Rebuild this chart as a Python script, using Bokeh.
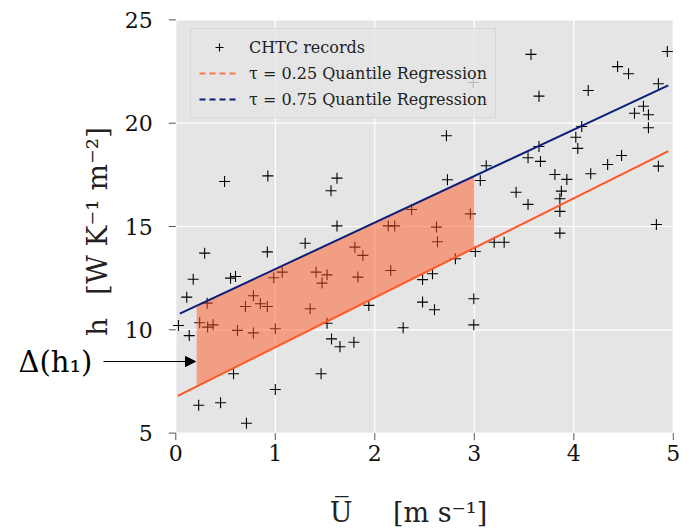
import numpy as np
from bokeh.plotting import figure
from bokeh.models import Label, Arrow, NormalHead, Legend, LegendItem, ColumnDataSource
from bokeh.embed import file_html
from bokeh.resources import INLINE
from bokeh.core.properties import value

# ---- data ----
wind_speed = [0.49, 0.925, 1.62, 1.56, 1.62, 1.30, 0.29, 0.92, 0.175, 0.55,
              0.60, 0.985, 1.07, 1.41, 1.52, 0.11, 0.315, 0.78, 0.70, 0.85,
              0.92, 1.35, 1.47, 0.027, 0.24, 0.32, 0.375, 0.135, 0.62, 0.78,
              1.00, 1.52, 1.565, 1.65, 0.58, 1.46, 1.00, 0.23, 0.45, 0.71,
              2.72, 3.12, 2.73, 3.06, 2.37, 2.96, 2.135, 2.20, 2.62, 2.63,
              1.80, 1.88, 2.16, 1.83, 2.81, 3.01, 3.20, 3.30, 2.58, 2.48,
              1.94, 2.48, 2.60, 2.285, 2.995, 2.995, 1.79,
              3.57, 4.94, 4.44, 4.55, 4.85, 4.145, 3.65, 4.70, 4.61, 4.75,
              4.75, 4.08, 4.02, 4.04, 3.65, 3.54, 3.665, 4.48, 4.34, 4.85,
              4.17, 3.81, 3.93, 3.42, 3.875, 3.86, 3.54, 3.86, 4.83, 3.86,
              2.99]
chtc = [17.18, 17.45, 17.34, 16.73, 15.03, 14.19, 13.71, 13.77, 12.45, 12.50,
        12.58, 12.52, 12.79, 12.79, 12.66, 11.58, 11.29, 11.65, 11.13, 11.26,
        11.13, 11.02, 12.26, 10.21, 10.34, 10.13, 10.24, 9.72, 9.97, 9.85,
        10.05, 10.32, 9.56, 9.18, 7.87, 7.87, 7.11, 6.35, 6.47, 5.48,
        19.39, 17.94, 17.26, 17.23, 15.82, 15.61, 15.03, 15.03, 14.97, 14.26,
        14.00, 13.60, 12.87, 12.55, 13.44, 13.79, 14.24, 14.24, 12.71, 12.43,
        11.18, 11.34, 10.97, 10.10, 11.50, 10.24, 9.40,
        23.33, 23.47, 22.74, 22.39, 21.91, 21.58, 21.31, 20.82, 20.48, 20.41,
        19.78, 19.84, 19.32, 18.78, 18.87, 18.33, 18.15, 18.44, 18.00, 17.92,
        17.55, 17.52, 17.28, 16.66, 16.71, 16.34, 16.07, 15.73, 15.10, 14.68,
        21.97]

q25_x = [0.02, 4.95]
q25_y = [6.80, 18.65]
q75_x = [0.04, 4.95]
q75_y = [10.78, 21.83]

band_x = [0.21, 3.0]
band_lower = list(np.interp(band_x, q25_x, q25_y))
band_upper = list(np.interp(band_x, q75_x, q75_y))

x_ticks = [0, 1, 2, 3, 4, 5]
y_ticks = [5, 10, 15, 20, 25]
x_tick_labels = ["0", "1", "2", "3", "4", "5"]
y_tick_labels = ["5", "10", "15", "20", "25"]
x_lim = (0, 5)
y_lim = (5, 25)

x_title = "U\u0305\u2003\u2002[m s\u207b\u00b9]"
y_title = "h\u2002\u00a0[W K\u207b\u00b9 m\u207b\u00b2]"
delta_text = "\u0394(h\u2081)"

# ---- layout (pixel geometry of the reference) ----
W, H = 690, 530
PX0, PX5 = 175.3, 672.8        # screen x of x=0 and x=5
PY5, PY25 = 432.6, 19.4        # screen y of y=5 and y=25
sx = (PX5 - PX0) / (x_lim[1] - x_lim[0])
sy = (PY5 - PY25) / (y_lim[1] - y_lim[0])
xr = (x_lim[0] - PX0 / sx, x_lim[0] + (W - PX0) / sx)
yr = (y_lim[0] - (H - PY5) / sy, y_lim[0] + PY5 / sy)

def dx(px):  # screen x -> data x
    return x_lim[0] + (px - PX0) / sx

def dy(py):  # screen y -> data y
    return y_lim[0] + (PY5 - py) / sy

SERIF = "DejaVu Serif"
ORANGE = "#ff5722"
NAVY = "#0b1f7a"
TICK = "#555555"

p = figure(width=W, height=H, x_range=xr, y_range=yr,
           output_backend="svg", toolbar_location=None,
           x_axis_location=None, y_axis_location=None, min_border=0)
p.outline_line_color = None
p.background_fill_color = "white"
p.border_fill_color = "white"
p.grid.visible = False

# plot panel background and grid
p.quad(left=[x_lim[0]], right=[x_lim[1]], bottom=[y_lim[0]], top=[y_lim[1]],
       fill_color="#e5e5e5", line_color=None, level="underlay")
p.segment(x0=x_ticks, y0=[y_lim[0]] * len(x_ticks), x1=x_ticks,
          y1=[y_lim[1]] * len(x_ticks), line_color="white", line_width=1.2,
          level="underlay")
p.segment(x0=[x_lim[0]] * len(y_ticks), y0=y_ticks, x1=[x_lim[1]] * len(y_ticks),
          y1=y_ticks, line_color="white", line_width=1.2, level="underlay")

# tick marks (7 px, outward)
tl_x = 7 / sx
tl_y = 7 / sy
p.segment(x0=x_ticks, y0=[y_lim[0]] * len(x_ticks), x1=x_ticks,
          y1=[y_lim[0] - tl_y] * len(x_ticks), line_color=TICK, line_width=1)
p.segment(x0=[x_lim[0]] * len(y_ticks), y0=y_ticks,
          x1=[x_lim[0] - tl_x] * len(y_ticks), y1=y_ticks,
          line_color=TICK, line_width=1)

# tick labels
p.text(x=x_ticks, y=[y_lim[0]] * len(x_ticks), text=x_tick_labels,
       text_font=value(SERIF), text_font_size="22px", text_color="#111111",
       text_align="center", text_baseline="middle", y_offset=20)
p.text(x=[x_lim[0]] * len(y_ticks), y=y_ticks, text=y_tick_labels,
       text_font=value(SERIF), text_font_size="22px", text_color="#111111",
       text_align="right", text_baseline="middle", x_offset=-23)

# data
pts = p.scatter(wind_speed, chtc, marker="cross", size=11, line_color="black",
                line_width=1.1)
p.varea(x=band_x, y1=band_lower, y2=band_upper, fill_color=ORANGE, fill_alpha=0.5)
p.line(q25_x, q25_y, line_color=ORANGE, line_width=2)
p.line(q75_x, q75_y, line_color=NAVY, line_width=2)

# axis titles
p.add_layout(Label(x=dx(408), y=dy(512), text=x_title, text_font=SERIF,
                   text_font_size="27px", text_color="#222222",
                   text_align="center", text_baseline="middle"))
p.add_layout(Label(x=dx(97), y=dy(231), text=y_title, text_font=SERIF,
                   text_font_size="28px", text_color="#222222", angle=np.pi / 2,
                   text_align="center", text_baseline="middle"))

# annotation
p.add_layout(Arrow(end=NormalHead(size=10, fill_color="black", line_color="black"),
                   x_start=dx(103), y_start=dy(361), x_end=dx(195), y_end=dy(361),
                   line_color="black", line_width=1.2))
p.add_layout(Label(x=dx(55), y=dy(361), text=delta_text, text_font=SERIF,
                   text_font_size="29px", text_color="black",
                   text_align="center", text_baseline="middle"))

# legend (dashed proxies, not drawn in the panel)
proxy = ColumnDataSource(data=dict(x=[np.nan, np.nan], y=[np.nan, np.nan]))
leg25 = p.line("x", "y", source=proxy, line_color=ORANGE, line_width=2,
               line_dash="6 4", line_alpha=0.8)
leg75 = p.line("x", "y", source=proxy, line_color=NAVY, line_width=2,
               line_dash="6 4")
legend = Legend(items=[
    LegendItem(label="CHTC records", renderers=[pts]),
    LegendItem(label="\u03c4 = 0.25 Quantile Regression", renderers=[leg25]),
    LegendItem(label="\u03c4 = 0.75 Quantile Regression", renderers=[leg75]),
], location=(190, H - 118))
legend.margin = 0
legend.padding = 8
legend.spacing = 6
legend.glyph_width = 40
legend.glyph_height = 20
legend.label_height = 20
legend.label_standoff = 10
legend.label_text_font = SERIF
legend.label_text_font_size = "16px"
legend.label_text_color = "#222222"
legend.background_fill_color = "#e5e5e5"
legend.background_fill_alpha = 0.8
legend.border_line_color = "#cccccc"
legend.border_line_width = 1
p.add_layout(legend)

open("out.html", "w").write(file_html(p, INLINE))
